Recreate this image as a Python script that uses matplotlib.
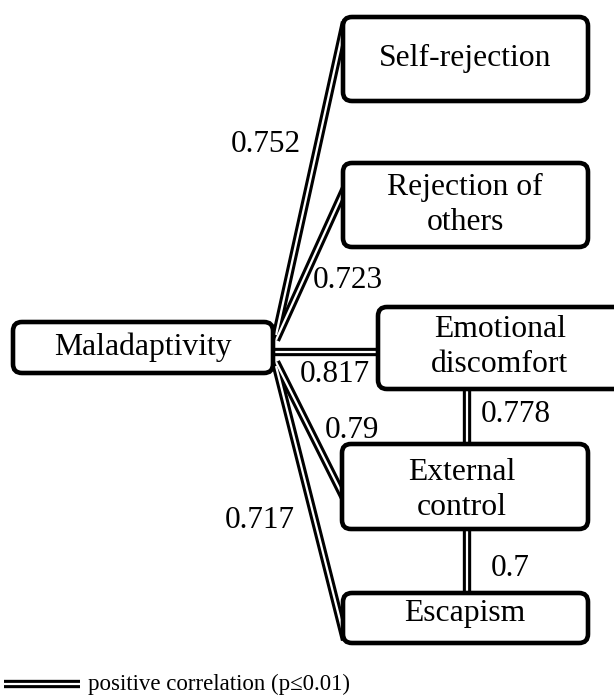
import matplotlib.pyplot as plt
from matplotlib.patches import FancyBboxPatch

plt.rcParams['font.family'] = ['Liberation Serif', 'DejaVu Serif']

# nodes and correlations
nodes = ["Maladaptivity", "Self-rejection", "Rejection of\nothers",
         "Emotional\ndiscomfort", "External\ncontrol", "Escapism"]
edges = [("Maladaptivity", "Self-rejection"),
         ("Maladaptivity", "Rejection of\nothers"),
         ("Maladaptivity", "Emotional\ndiscomfort"),
         ("Maladaptivity", "External\ncontrol"),
         ("Maladaptivity", "Escapism"),
         ("Emotional\ndiscomfort", "External\ncontrol"),
         ("External\ncontrol", "Escapism")]
corr = [0.752, 0.723, 0.817, 0.79, 0.717, 0.778, 0.7]
legend_text = "positive correlation (p\u22640.01)"

# layout in pixels: box (x0, y0, x1, y1), text centre
boxes = {
    "Maladaptivity": ((13, 322, 273, 373), (143, 347)),
    "Self-rejection": ((343, 17, 588, 101), (465, 58)),
    "Rejection of\nothers": ((343, 163, 588, 247), (465, 205)),
    "Emotional\ndiscomfort": ((378, 307, 630, 389), (500, 347)),
    "External\ncontrol": ((342, 444, 588, 529), (462, 490)),
    "Escapism": ((343, 593, 588, 643), (465, 614)),
}
# line end points per edge
ends = [((276, 335), (345, 22)),
        ((276, 340), (345, 188)),
        ((274, 352), (380, 352)),
        ((276, 362), (345, 500)),
        ((276, 366), (345, 640)),
        ((467, 389), (467, 444)),
        ((467, 529), (467, 593))]
label_pos = [(266, 145), (348, 280), (335, 374), (352, 430),
             (260, 521), (516, 415), (510, 568)]

W, H = 614, 697
fig = plt.figure(figsize=(W / 100, H / 100), dpi=100)
ax = fig.add_axes([0, 0, 1, 1])
ax.set_xlim(0, W)
ax.set_ylim(H, 0)
ax.axis('off')


def double_line(p, q):
    ax.plot([p[0], q[0]], [p[1], q[1]], color='black', lw=6,
            solid_capstyle='butt', zorder=1)
    ax.plot([p[0], q[0]], [p[1], q[1]], color='white', lw=1.6,
            solid_capstyle='butt', zorder=1.5)


for (p, q), v, (lx, ly) in zip(ends, corr, label_pos):
    double_line(p, q)
    ax.text(lx, ly, f"{v:g}", fontsize=22.5, ha='center', va='center', zorder=3)

for name in nodes:
    (x0, y0, x1, y1), (tx, ty) = boxes[name]
    ax.add_patch(FancyBboxPatch((x0, y0), x1 - x0, y1 - y0,
                                boxstyle="round,pad=0,rounding_size=9",
                                fc='white', ec='black', lw=3.3, zorder=2))
    ax.text(tx, ty, name, fontsize=22.8, ha='center', va='center',
            linespacing=1.3, zorder=3)

# legend
double_line((4, 684), (80, 684))
ax.text(88, 684, legend_text, fontsize=16.5, ha='left', va='center')

fig.savefig('out.png', dpi=100)
